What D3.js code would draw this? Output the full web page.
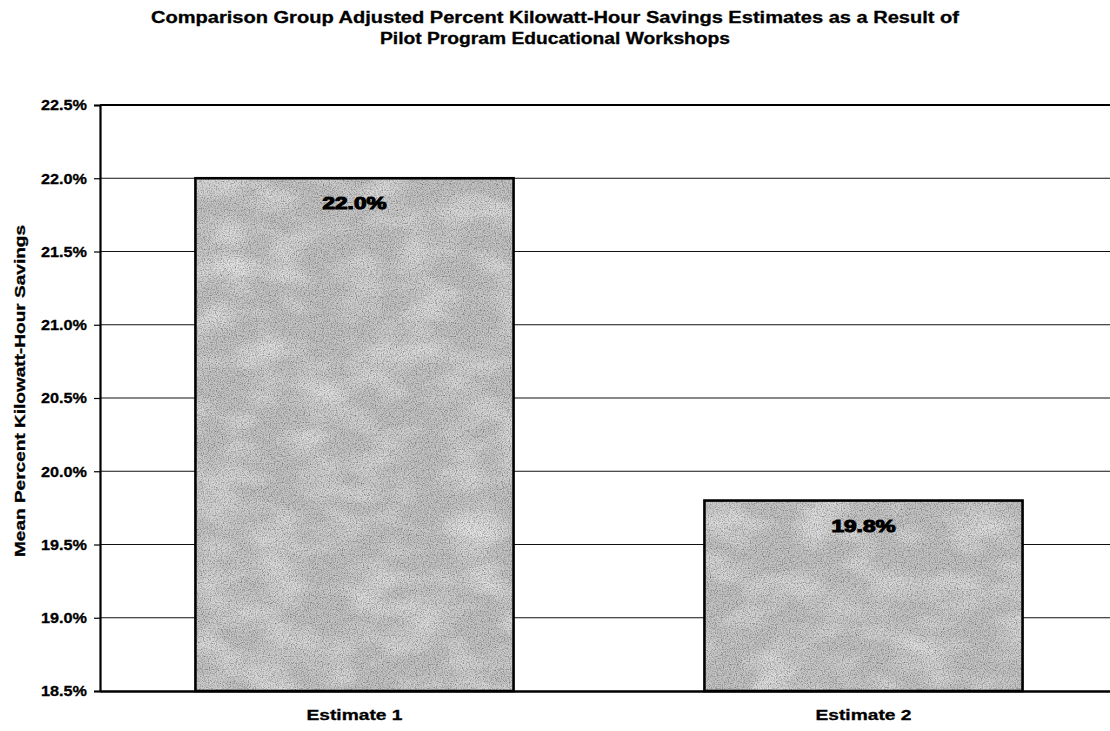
<!DOCTYPE html>
<html>
<head>
<meta charset="utf-8">
<script src="https://cdn.jsdelivr.net/npm/d3@7/dist/d3.min.js"></script>
<style>
  html, body { margin: 0; padding: 0; background: #fff; }
  svg { display: block; font-family: Arial, "Liberation Sans", sans-serif; }
</style>
</head>
<body>
<svg id="chart" width="1110" height="731"></svg>
<script>
// Chart data
const titleLines = [
  "Comparison Group Adjusted Percent Kilowatt-Hour Savings Estimates as a Result of",
  "Pilot Program Educational Workshops"
];
const categories = ["Estimate 1", "Estimate 2"];
const savings = [22.0, 19.8];
const yTicks = [18.5, 19.0, 19.5, 20.0, 20.5, 21.0, 21.5, 22.0, 22.5];
const yAxisTitle = "Mean Percent Kilowatt-Hour Savings";

const svg = d3.select("#chart");
const W = 1110, H = 731;
const plot = { left: 100, right: 1118, top: 105, bottom: 691 };
const FONT = "Arial, 'Liberation Sans', sans-serif";

const x = d3.scaleBand()
  .domain(categories)
  .range([plot.left, plot.right])
  .paddingInner(0.375)
  .paddingOuter(0.1875);

const y = d3.scaleLinear()
  .domain([18.5, 22.5])
  .range([plot.bottom, plot.top]);

// Speckled grey fill for the bars, with faint diagonal streaks
const defs = svg.append("defs");
const f = defs.append("filter").attr("id", "grain")
  .attr("x", 0).attr("y", 0).attr("width", 1).attr("height", 1);
f.append("feTurbulence").attr("type", "fractalNoise")
  .attr("baseFrequency", "0.85").attr("numOctaves", 2).attr("seed", 4).attr("result", "noise");
f.append("feColorMatrix").attr("in", "noise").attr("type", "matrix")
  .attr("values", "0 0 0 0 0  0 0 0 0 0  0 0 0 0 0  0 0 0 -1.5 0.9").attr("result", "dots");
f.append("feComposite").attr("in", "dots").attr("in2", "SourceGraphic").attr("operator", "in").attr("result", "dotsIn");
f.append("feTurbulence").attr("type", "fractalNoise")
  .attr("baseFrequency", "0.02 0.035").attr("numOctaves", 2).attr("seed", 9).attr("result", "waves");
f.append("feColorMatrix").attr("in", "waves").attr("type", "matrix")
  .attr("values", "0 0 0 0 1  0 0 0 0 1  0 0 0 0 1  0 0 0 -1.0 0.6").attr("result", "light");
f.append("feComposite").attr("in", "light").attr("in2", "SourceGraphic").attr("operator", "in").attr("result", "lightIn");
f.append("feMerge").selectAll("feMergeNode")
  .data(["SourceGraphic", "lightIn", "dotsIn"]).join("feMergeNode").attr("in", d => d);

// Gridlines
svg.append("g")
  .selectAll("line")
  .data(yTicks.filter(t => t > 18.5 && t < 22.5))
  .join("line")
  .attr("x1", plot.left).attr("x2", W)
  .attr("y1", d => y(d)).attr("y2", d => y(d))
  .attr("stroke", "#111").attr("stroke-width", 1.1);

// Top border
svg.append("line")
  .attr("x1", plot.left).attr("x2", W)
  .attr("y1", y(22.5)).attr("y2", y(22.5))
  .attr("stroke", "#000").attr("stroke-width", 2.2);

// Bars
const bars = svg.append("g");
bars.selectAll("rect.fill")
  .data(savings)
  .join("rect")
  .attr("class", "fill")
  .attr("x", (d, i) => x(categories[i]))
  .attr("width", x.bandwidth())
  .attr("y", d => y(d))
  .attr("height", d => y(18.5) - y(d))
  .attr("fill", "#c4c4c4")
  .attr("filter", "url(#grain)");
bars.selectAll("rect.edge")
  .data(savings)
  .join("rect")
  .attr("class", "edge")
  .attr("x", (d, i) => x(categories[i]))
  .attr("width", x.bandwidth())
  .attr("y", d => y(d))
  .attr("height", d => y(18.5) - y(d))
  .attr("fill", "none")
  .attr("stroke", "#000")
  .attr("stroke-width", 2.6);

// Value labels
svg.append("g")
  .selectAll("text")
  .data(savings)
  .join("text")
  .attr("x", (d, i) => x(categories[i]) + x.bandwidth() / 2)
  .attr("y", d => y(d) + 31)
  .attr("text-anchor", "middle")
  .attr("font-size", 17)
  .attr("font-weight", "bold")
  .attr("font-family", FONT)
  .attr("textLength", 64).attr("lengthAdjust", "spacingAndGlyphs")
  .attr("stroke", "#000").attr("stroke-width", 1.1)
  .attr("fill", "#000")
  .text(d => d.toFixed(1) + "%");

// Y axis
const yAxis = svg.append("g")
  .attr("transform", `translate(${plot.left},0)`)
  .call(d3.axisLeft(y).tickValues(yTicks).tickFormat(d => d.toFixed(1) + "%").tickSize(6).tickPadding(7));
yAxis.select(".domain").attr("stroke", "#000").attr("stroke-width", 2.2);
yAxis.selectAll(".tick line").attr("stroke", "#000").attr("stroke-width", 1.2);
yAxis.selectAll(".tick text")
  .attr("font-size", 15).attr("font-weight", "bold").attr("fill", "#000")
  .attr("font-family", FONT)
  .attr("textLength", 46).attr("lengthAdjust", "spacingAndGlyphs")
  .attr("stroke", "#000").attr("stroke-width", 0.3);

// X axis
const xAxis = svg.append("g")
  .attr("transform", `translate(0,${plot.bottom})`)
  .call(d3.axisBottom(x).tickSize(0).tickPadding(18));
xAxis.select(".domain").attr("stroke", "#000").attr("stroke-width", 2.4);
xAxis.selectAll(".tick text")
  .attr("font-size", 15).attr("font-weight", "bold").attr("fill", "#000")
  .attr("font-family", FONT)
  .attr("textLength", 96).attr("lengthAdjust", "spacingAndGlyphs")
  .attr("stroke", "#000").attr("stroke-width", 0.3);

// Y axis title
svg.append("text")
  .attr("transform", `translate(25,${391}) rotate(-90)`)
  .attr("text-anchor", "middle")
  .attr("font-size", 15).attr("font-weight", "bold")
  .attr("font-family", FONT)
  .attr("textLength", 332).attr("lengthAdjust", "spacingAndGlyphs")
  .attr("stroke", "#000").attr("stroke-width", 0.3)
  .text(yAxisTitle);

// Chart title
const titleWidths = [808, 350];
svg.append("g")
  .selectAll("text")
  .data(titleLines)
  .join("text")
  .attr("x", 555)
  .attr("y", (d, i) => 23 + i * 21)
  .attr("text-anchor", "middle")
  .attr("font-size", 16).attr("font-weight", "bold")
  .attr("font-family", FONT)
  .attr("textLength", (d, i) => titleWidths[i]).attr("lengthAdjust", "spacingAndGlyphs")
  .attr("stroke", "#000").attr("stroke-width", 0.3)
  .text(d => d);
</script>
</body>
</html>
